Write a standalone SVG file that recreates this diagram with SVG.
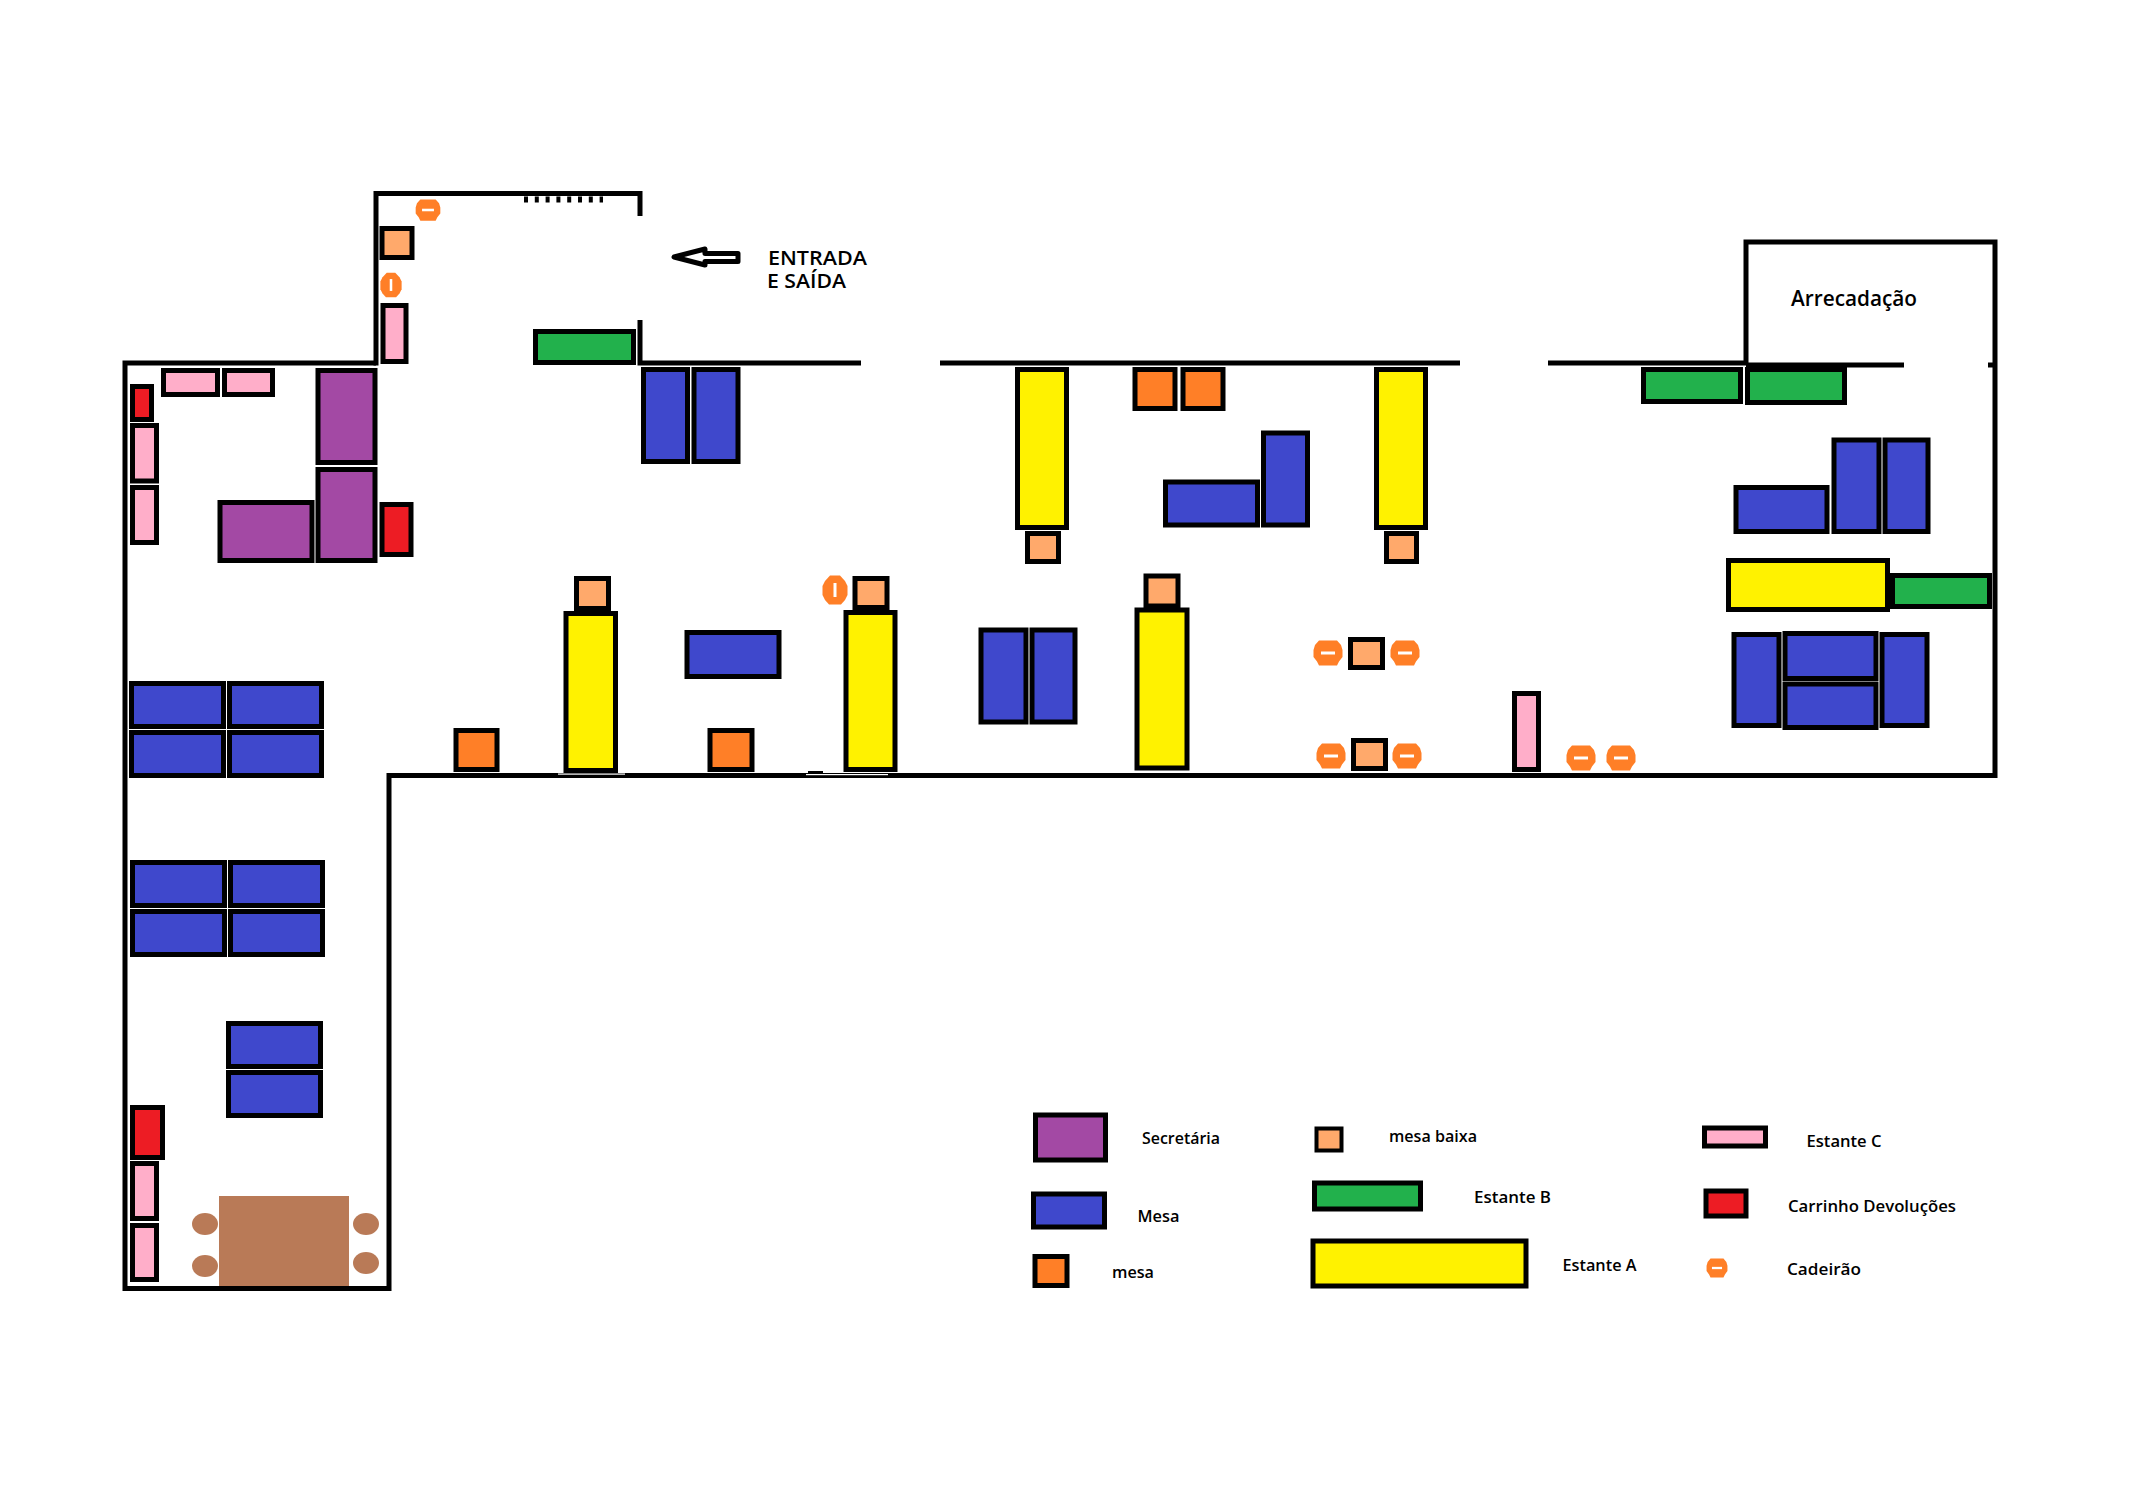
<svg xmlns="http://www.w3.org/2000/svg" width="2150" height="1500" viewBox="0 0 2150 1500">
<style>
rect.f{stroke:#000;stroke-width:5}
.pu{fill:#a349a4}.bl{fill:#3f48cc}.ye{fill:#fff200}.gr{fill:#22b14c}.or{fill:#ff7f27}.ba{fill:#ffa96b}.pi{fill:#ffaec9}.re{fill:#ed1c24}
.wall{fill:none;stroke:#000;stroke-width:5;stroke-linecap:butt;stroke-linejoin:miter}
text{font-family:"Open Sans","Liberation Sans",sans-serif;fill:#000;font-weight:600}
.lg{font-size:17px}
.br{fill:#b97a57}
</style>
<defs>
<g id="ch"><path d="M-9-12.500H9L13-8 14.500-3V4L11 8.500 9 12.500H-9L-11 8.500-14.500 4V-3L-13-8Z" fill="#ff7f27"/><rect x="-7" y="-1.500" width="14" height="3" fill="#fff"/></g>
<g id="cv"><path d="M-5-14.500H5L10-9 12.500-4V5L10 10 6 14.500H-6L-10 10-12.500 5V-4L-10-9Z" fill="#ff7f27"/><rect x="-1.500" y="-7" width="3" height="14" fill="#fff"/></g>
</defs>
<rect width="2150" height="1500" fill="#fff"/>
<g id="walls">
<path class="wall" d="M376 363H125V1288.500H389V775.500H1995V242H1746V363"/>
<path class="wall" d="M376 365.500V193.500H640V216"/>
<path class="wall" d="M640 320V363H861"/>
<path class="wall" d="M940 363H1460"/>
<path class="wall" d="M1548 363H1746"/>
<path class="wall" d="M1746 365H1904"/>
<path class="wall" d="M1988 365H1995"/>
<path d="M524 199.500H603" fill="none" stroke="#000" stroke-width="6" stroke-dasharray="4 6.800"/>
<path d="M674 257L705 249V253.500H738V261.500H705V265Z" fill="#fff" stroke="#000" stroke-width="5" stroke-linejoin="round"/>
<rect x="558" y="773.500" width="67" height="1.200" fill="#fff"/>
<rect x="806" y="774" width="82" height="1.200" fill="#fff"/>
<rect x="808" y="771" width="15" height="3"/>
</g>
<g id="furniture">
<rect class="f pi" x="163.500" y="370.500" width="54" height="24"/>
<rect class="f pi" x="224.500" y="370.500" width="48" height="24"/>
<rect class="f re" x="132.500" y="386.500" width="19" height="33"/>
<rect class="f pi" x="132.500" y="425.500" width="24" height="55.500"/>
<rect class="f pi" x="132.500" y="487.500" width="24" height="55"/>
<rect class="f pu" x="318" y="370.500" width="57" height="92"/>
<rect class="f pu" x="318" y="469.500" width="57" height="91"/>
<rect class="f pu" x="220" y="502.500" width="92" height="58"/>
<rect class="f re" x="382" y="504.500" width="29" height="50"/>
<rect class="f pi" x="383" y="305.500" width="23" height="56"/>
<rect class="f ba" x="382" y="228.500" width="30" height="29"/>
<rect class="f gr" x="535.500" y="331.500" width="98" height="31"/>
<rect class="f bl" x="643.500" y="369.500" width="44" height="92"/>
<rect class="f bl" x="694" y="369.500" width="44" height="92"/>
<rect class="f ye" x="1017.500" y="369.500" width="49" height="158"/>
<rect class="f or" x="1135" y="369.500" width="40" height="39"/>
<rect class="f or" x="1183" y="369.500" width="40" height="39"/>
<rect class="f ba" x="1027.500" y="533.500" width="31" height="28"/>
<rect class="f bl" x="1165.500" y="482" width="92" height="43"/>
<rect class="f bl" x="1263.500" y="433" width="44" height="92"/>
<rect class="f ye" x="1376.500" y="369.500" width="49" height="158"/>
<rect class="f ba" x="1386.500" y="533.500" width="30" height="28"/>
<rect class="f gr" x="1643.500" y="369.500" width="97" height="32"/>
<rect class="f gr" x="1747.500" y="369.500" width="97" height="33"/>
<rect class="f bl" x="1736" y="487.500" width="91" height="44"/>
<rect class="f bl" x="1834" y="440" width="45" height="91.500"/>
<rect class="f bl" x="1885" y="440" width="43" height="91.500"/>
<rect class="f ye" x="1728.500" y="560.500" width="159" height="49"/>
<rect class="f gr" x="1892.500" y="575.500" width="97" height="31"/>
<rect class="f bl" x="1734" y="634.500" width="45" height="91"/>
<rect class="f bl" x="1785" y="633.500" width="91" height="45"/>
<rect class="f bl" x="1785" y="684" width="91" height="43.500"/>
<rect class="f bl" x="1882" y="634.500" width="45" height="91"/>
<rect class="f ba" x="576.500" y="578.500" width="32" height="30"/>
<rect class="f ye" x="566" y="613.500" width="49.500" height="157"/>
<rect class="f or" x="456" y="730.500" width="41" height="39"/>
<rect class="f bl" x="687" y="632.500" width="92" height="44"/>
<rect class="f or" x="710" y="730.500" width="42" height="39"/>
<rect class="f ba" x="855" y="578.500" width="32" height="29"/>
<rect class="f ye" x="846" y="612.500" width="49" height="157"/>
<rect class="f bl" x="981" y="630" width="45" height="92"/>
<rect class="f bl" x="1032" y="630" width="43" height="92"/>
<rect class="f ba" x="1146" y="576" width="32" height="30"/>
<rect class="f ye" x="1137" y="610" width="50" height="158"/>
<rect class="f ba" x="1350.500" y="639.500" width="32" height="28"/>
<rect class="f ba" x="1353.500" y="740.500" width="32" height="28"/>
<rect class="f pi" x="1514.500" y="693.500" width="24" height="76"/>
<rect class="f bl" x="131.500" y="683.500" width="92" height="43"/>
<rect class="f bl" x="229.500" y="683.500" width="92" height="43"/>
<rect class="f bl" x="131.500" y="732.500" width="92" height="43"/>
<rect class="f bl" x="229.500" y="732.500" width="92" height="43"/>
<rect class="f bl" x="132.500" y="862.500" width="92" height="43"/>
<rect class="f bl" x="230.500" y="862.500" width="92" height="43"/>
<rect class="f bl" x="132.500" y="911.500" width="92" height="43"/>
<rect class="f bl" x="230.500" y="911.500" width="92" height="43"/>
<rect class="f bl" x="228.500" y="1023.500" width="92" height="43"/>
<rect class="f bl" x="228.500" y="1072.500" width="92" height="43"/>
<rect class="f re" x="132.500" y="1107.500" width="30" height="50"/>
<rect class="f pi" x="132.500" y="1163.500" width="24" height="55"/>
<rect class="f pi" x="132.500" y="1225.500" width="24" height="54"/>
<rect class="br" x="219" y="1196" width="130" height="90"/>
<ellipse class="br" cx="205" cy="1224" rx="13" ry="11"/>
<ellipse class="br" cx="205" cy="1266" rx="13" ry="11"/>
<ellipse class="br" cx="366" cy="1224" rx="13" ry="11"/>
<ellipse class="br" cx="366" cy="1263" rx="13" ry="11"/>
<use href="#ch" transform="translate(428 210) scale(.85)"/>
<use href="#cv" transform="translate(391 285) scale(.85)"/>
<use href="#cv" x="835" y="590"/>
<use href="#ch" x="1328" y="653"/>
<use href="#ch" x="1405" y="653"/>
<use href="#ch" x="1331" y="756"/>
<use href="#ch" x="1407" y="756"/>
<use href="#ch" x="1581" y="758"/>
<use href="#ch" x="1621" y="758"/>
</g>
<g id="legend">
<rect class="f pu" x="1035.500" y="1115" width="70" height="45"/>
<rect class="f bl" x="1033.500" y="1194" width="71" height="33"/>
<rect class="f or" x="1035" y="1256.500" width="32" height="29"/>
<rect class="f ba" x="1316.500" y="1128.500" width="25" height="22" style="stroke-width:4"/>
<rect class="f gr" x="1314.500" y="1183" width="106" height="26"/>
<rect class="f ye" x="1313" y="1241" width="213" height="45"/>
<rect class="f pi" x="1704.500" y="1128" width="61" height="18"/>
<rect class="f re" x="1706" y="1191" width="40" height="25"/>
<use href="#ch" transform="translate(1717 1268) scale(.72 .76)"/>
<text class="lg" x="1142" y="1144" textLength="78" lengthAdjust="spacingAndGlyphs">Secretária</text>
<text class="lg" x="1137.500" y="1222" textLength="42" lengthAdjust="spacingAndGlyphs">Mesa</text>
<text class="lg" x="1112" y="1278" textLength="42" lengthAdjust="spacingAndGlyphs">mesa</text>
<text class="lg" x="1389" y="1142" textLength="88" lengthAdjust="spacingAndGlyphs">mesa baixa</text>
<text class="lg" x="1474" y="1203" textLength="77" lengthAdjust="spacingAndGlyphs">Estante B</text>
<text class="lg" x="1562.500" y="1271" textLength="74" lengthAdjust="spacingAndGlyphs">Estante A</text>
<text class="lg" x="1806.500" y="1147" textLength="75" lengthAdjust="spacingAndGlyphs">Estante C</text>
<text class="lg" x="1788" y="1212" textLength="168" lengthAdjust="spacingAndGlyphs">Carrinho Devoluções</text>
<text class="lg" x="1787" y="1275" textLength="74" lengthAdjust="spacingAndGlyphs">Cadeirão</text>
</g>
<g id="labels">
<text x="768" y="265" font-size="20" textLength="99" lengthAdjust="spacingAndGlyphs">ENTRADA</text>
<text x="767" y="288" font-size="20" textLength="79" lengthAdjust="spacingAndGlyphs">E SAÍDA</text>
<text x="1791" y="306" font-size="21" textLength="126" lengthAdjust="spacingAndGlyphs">Arrecadação</text>
</g>
</svg>
